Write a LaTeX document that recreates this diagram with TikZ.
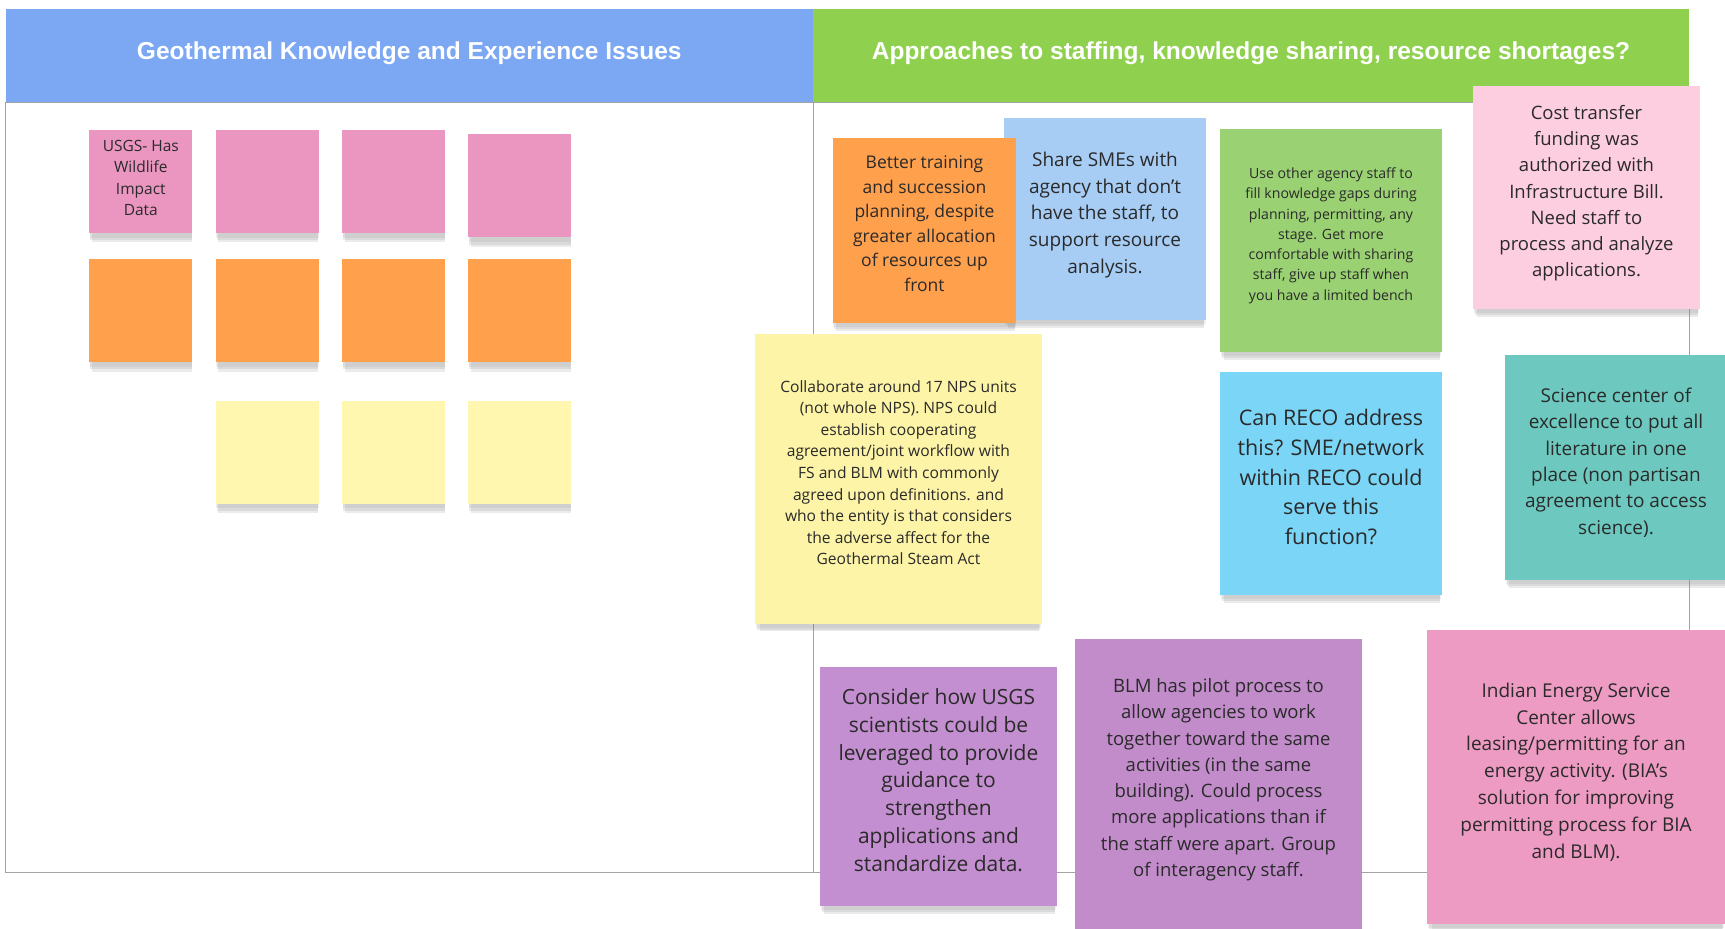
\documentclass[tikz,border=0pt]{standalone}
\usepackage{fontspec}
\setmainfont{Open Sans}
\newfontfamily\headfont{Liberation Sans}
\usetikzlibrary{shadows}
\definecolor{headblue}{HTML}{7BA7F3}
\definecolor{headgreen}{HTML}{8FD14F}
\definecolor{frameline}{HTML}{A3A3A3}
\definecolor{notetext}{HTML}{2A2A2A}
\definecolor{pinknote}{HTML}{EA96C0}
\definecolor{orangenote}{HTML}{FFA04D}
\definecolor{palenote}{HTML}{FFF7B0}
\definecolor{yellownote}{HTML}{FDF4A8}
\definecolor{bluenote}{HTML}{A7CDF5}
\definecolor{greennote}{HTML}{9AD173}
\definecolor{rosenote}{HTML}{FDCDE0}
\definecolor{cyannote}{HTML}{7AD5F6}
\definecolor{tealnote}{HTML}{6DC9BF}
\definecolor{violetnote}{HTML}{C48FD0}
\definecolor{mauvenote}{HTML}{C28CCB}
\definecolor{magentanote}{HTML}{EE9BC3}

\begin{document}
\begin{tikzpicture}[
  x=1pt, y=-1pt,
  note/.style={inner sep=0pt, align=center, text=notetext, text depth=13pt,
    drop shadow={shadow xshift=0pt, shadow yshift=-5pt, shadow scale=0.995, opacity=0.12},
    drop shadow={shadow xshift=0pt, shadow yshift=-8pt, shadow scale=0.985, opacity=0.16},
    drop shadow={shadow xshift=1pt, shadow yshift=-11pt, shadow scale=0.975, opacity=0.16}},
  smallnote/.style={note, text depth=7pt, minimum width=103pt, minimum height=103pt,
    font=\fontsize{15.5}{21.5}\selectfont},
  header/.style={minimum height=93pt, inner sep=0pt, text=white, text depth=10pt,
    font=\headfont\bfseries\fontsize{24.5}{28}\selectfont},
  frame/.style={draw=frameline, line width=0.9pt}
]
\useasboundingbox (0,0) rectangle (1725,929);
\clip (0,0) rectangle (1725,929);

% board frame and column headers
\draw[frame] (5.5,102) rectangle (1689,872);
\draw[frame] (813,102) -- (813,872);
\node[header, fill=headblue, minimum width=807.5pt] (leftcol) at (409.25,55.5) {Geothermal Knowledge and Experience Issues};
\node[header, fill=headgreen, minimum width=876pt] (rightcol) at (1251,55.5) {Approaches to staffing, knowledge sharing, resource shortages?};

% left column stickies
\node[smallnote, fill=pinknote] (usgs) at (140.8,181.5) {USGS- Has\\Wildlife\\Impact\\Data};
\node[smallnote, fill=pinknote] (pinkb) at (267.3,181.5) {};
\node[smallnote, fill=pinknote] (pinkc) at (393.8,181.5) {};
\node[smallnote, fill=pinknote] (pinkd) at (519.8,185.9) {};
\node[smallnote, fill=orangenote] (orangea) at (140.8,310.8) {};
\node[smallnote, fill=orangenote] (orangeb) at (267.3,310.8) {};
\node[smallnote, fill=orangenote] (orangec) at (393.8,310.8) {};
\node[smallnote, fill=orangenote] (oranged) at (519.8,310.8) {};
\node[smallnote, fill=palenote] (paleb) at (267.3,452.1) {};
\node[smallnote, fill=palenote] (palec) at (393.8,452.1) {};
\node[smallnote, fill=palenote] (paled) at (519.8,452.1) {};

% right column stickies
\node[note, fill=bluenote, minimum width=202pt, minimum height=202pt,
  font=\fontsize{19}{26.7}\selectfont] (smes) at (1105,219)
  {Share SMEs with\\agency that don't\\have the staff, to\\support resource\\analysis.};
\node[note, fill=orangenote, minimum width=183pt, minimum height=185pt,
  font=\fontsize{17.5}{24.5}\selectfont] (training) at (924.5,230)
  {Better training\\and succession\\planning, despite\\greater allocation\\of resources up\\front};
\node[note, fill=greennote, minimum width=222pt, minimum height=223pt,
  font=\fontsize{14.1}{20.3}\selectfont] (otherstaff) at (1331,240.5)
  {Use other agency staff to\\fill knowledge gaps during\\planning, permitting, any\\stage. Get more\\comfortable with sharing\\staff, give up staff when\\you have a limited bench};
\node[note, fill=rosenote, minimum width=227pt, minimum height=223pt,
  font=\fontsize{18.5}{26.2}\selectfont] (costtransfer) at (1586.5,197.5)
  {Cost transfer\\funding was\\authorized with\\Infrastructure Bill.\\Need staff to\\process and analyze\\applications.};
\node[note, fill=yellownote, minimum width=287pt, minimum height=290pt,
  font=\fontsize{15.6}{21.6}\selectfont] (collaborate) at (898.5,479)
  {Collaborate around 17 NPS units\\(not whole NPS). NPS could\\establish cooperating\\agreement/joint workflow with\\FS and BLM with commonly\\agreed upon definitions. and\\who the entity is that considers\\the adverse affect for the\\Geothermal Steam Act};
\node[note, fill=cyannote, minimum width=222pt, minimum height=223pt,
  font=\fontsize{21.5}{29.7}\selectfont] (reco) at (1331,483.5)
  {Can RECO address\\this? SME/network\\within RECO could\\serve this\\function?};
\node[note, fill=tealnote, minimum width=222pt, minimum height=225pt,
  font=\fontsize{19}{26.4}\selectfont] (sciencecenter) at (1616,467.5)
  {Science center of\\excellence to put all\\literature in one\\place (non partisan\\agreement to access\\science).};
\node[note, fill=violetnote, minimum width=237pt, minimum height=239pt,
  font=\fontsize{21}{27.9}\selectfont] (usgsguide) at (938.5,786.5)
  {Consider how USGS\\scientists could be\\leveraged to provide\\guidance to\\strengthen\\applications and\\standardize data.};
\node[note, fill=mauvenote, minimum width=287pt, minimum height=290pt,
  font=\fontsize{18.5}{26.3}\selectfont] (blmpilot) at (1218.5,784)
  {BLM has pilot process to\\allow agencies to work\\together toward the same\\activities (in the same\\building). Could process\\more applications than if\\the staff were apart. Group\\of interagency staff.};
\node[note, fill=magentanote, minimum width=298pt, minimum height=294pt,
  font=\fontsize{19}{26.8}\selectfont] (iesc) at (1576,777)
  {Indian Energy Service\\Center allows\\leasing/permitting for an\\energy activity. (BIA's\\solution for improving\\permitting process for BIA\\and BLM).};
\end{tikzpicture}
\end{document}
